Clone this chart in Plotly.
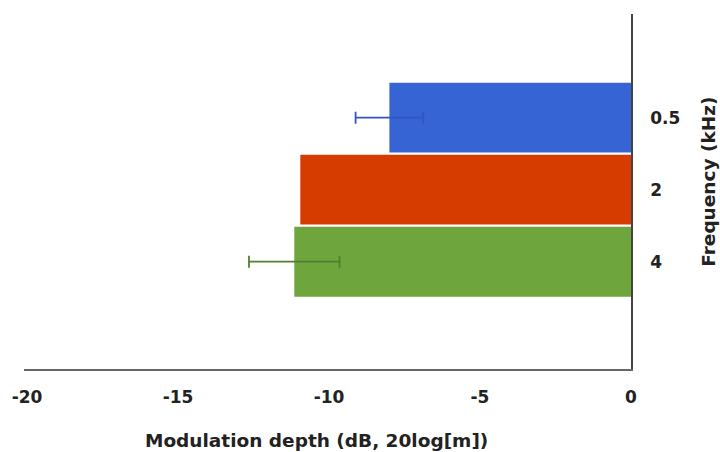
import plotly.graph_objects as go

# Modulation depth per carrier frequency
frequencies = ["0.5", "2", "4"]
depth_db = [-8.0, -10.95, -11.15]
depth_err = [1.12, 0.0, 1.5]
bar_colors = ["#3664d4", "#d63c00", "#6ea63d"]
err_colors = ["#3454c0", "#d63c00", "#4f8030"]
x_ticks = [-20, -15, -10, -5, 0]
x_tick_text = ["-20", "-15", "-10", "-5", "0"]

fig = go.Figure()
for f, v, e, c, ec in zip(frequencies, depth_db, depth_err, bar_colors, err_colors):
    fig.add_trace(go.Bar(
        y=[f], x=[v], orientation="h",
        marker=dict(color=c, line=dict(width=0)),
        error_x=dict(type="data", array=[e], visible=e > 0,
                     color=ec, thickness=1.8, width=6),
        showlegend=False,
    ))

font_bold = dict(family="DejaVu Sans, sans-serif", size=17,
                 color="#222222", weight="bold")
title_font = dict(font_bold, size=18.5)

fig.update_layout(
    width=720, height=452,
    margin=dict(l=22, r=89, t=14, b=83),
    plot_bgcolor="white", paper_bgcolor="white",
    bargap=0.03,
    xaxis=dict(
        range=[-20.1, 0], tickvals=x_ticks, ticktext=x_tick_text,
        showgrid=False, zeroline=False,
        showline=True, linecolor="#666666", linewidth=1.5,
        ticks="", ticklabelstandoff=12,
        tickfont=font_bold,
    ),
    yaxis=dict(
        side="right", type="category",
        categoryorder="array", categoryarray=frequencies,
        range=[2 + 1.49, -1.44],
        showgrid=False, zeroline=False,
        showline=True, linecolor="#444444", linewidth=1.5,
        ticks="", ticklabelstandoff=14,
        tickfont=font_bold,
    ),
    annotations=[
        dict(text="Modulation depth (dB, 20log[m])", font=title_font,
             xref="paper", yref="paper", x=(315 - 22) / 609, y=-71 / 355,
             xanchor="center", yanchor="middle", showarrow=False),
        dict(text="Frequency (kHz)", font=title_font, textangle=-90,
             xref="paper", yref="paper", x=(708 - 22) / 609, y=(369 - 182) / 355,
             xanchor="center", yanchor="middle", showarrow=False),
    ],
)

fig.write_html("out.html")
